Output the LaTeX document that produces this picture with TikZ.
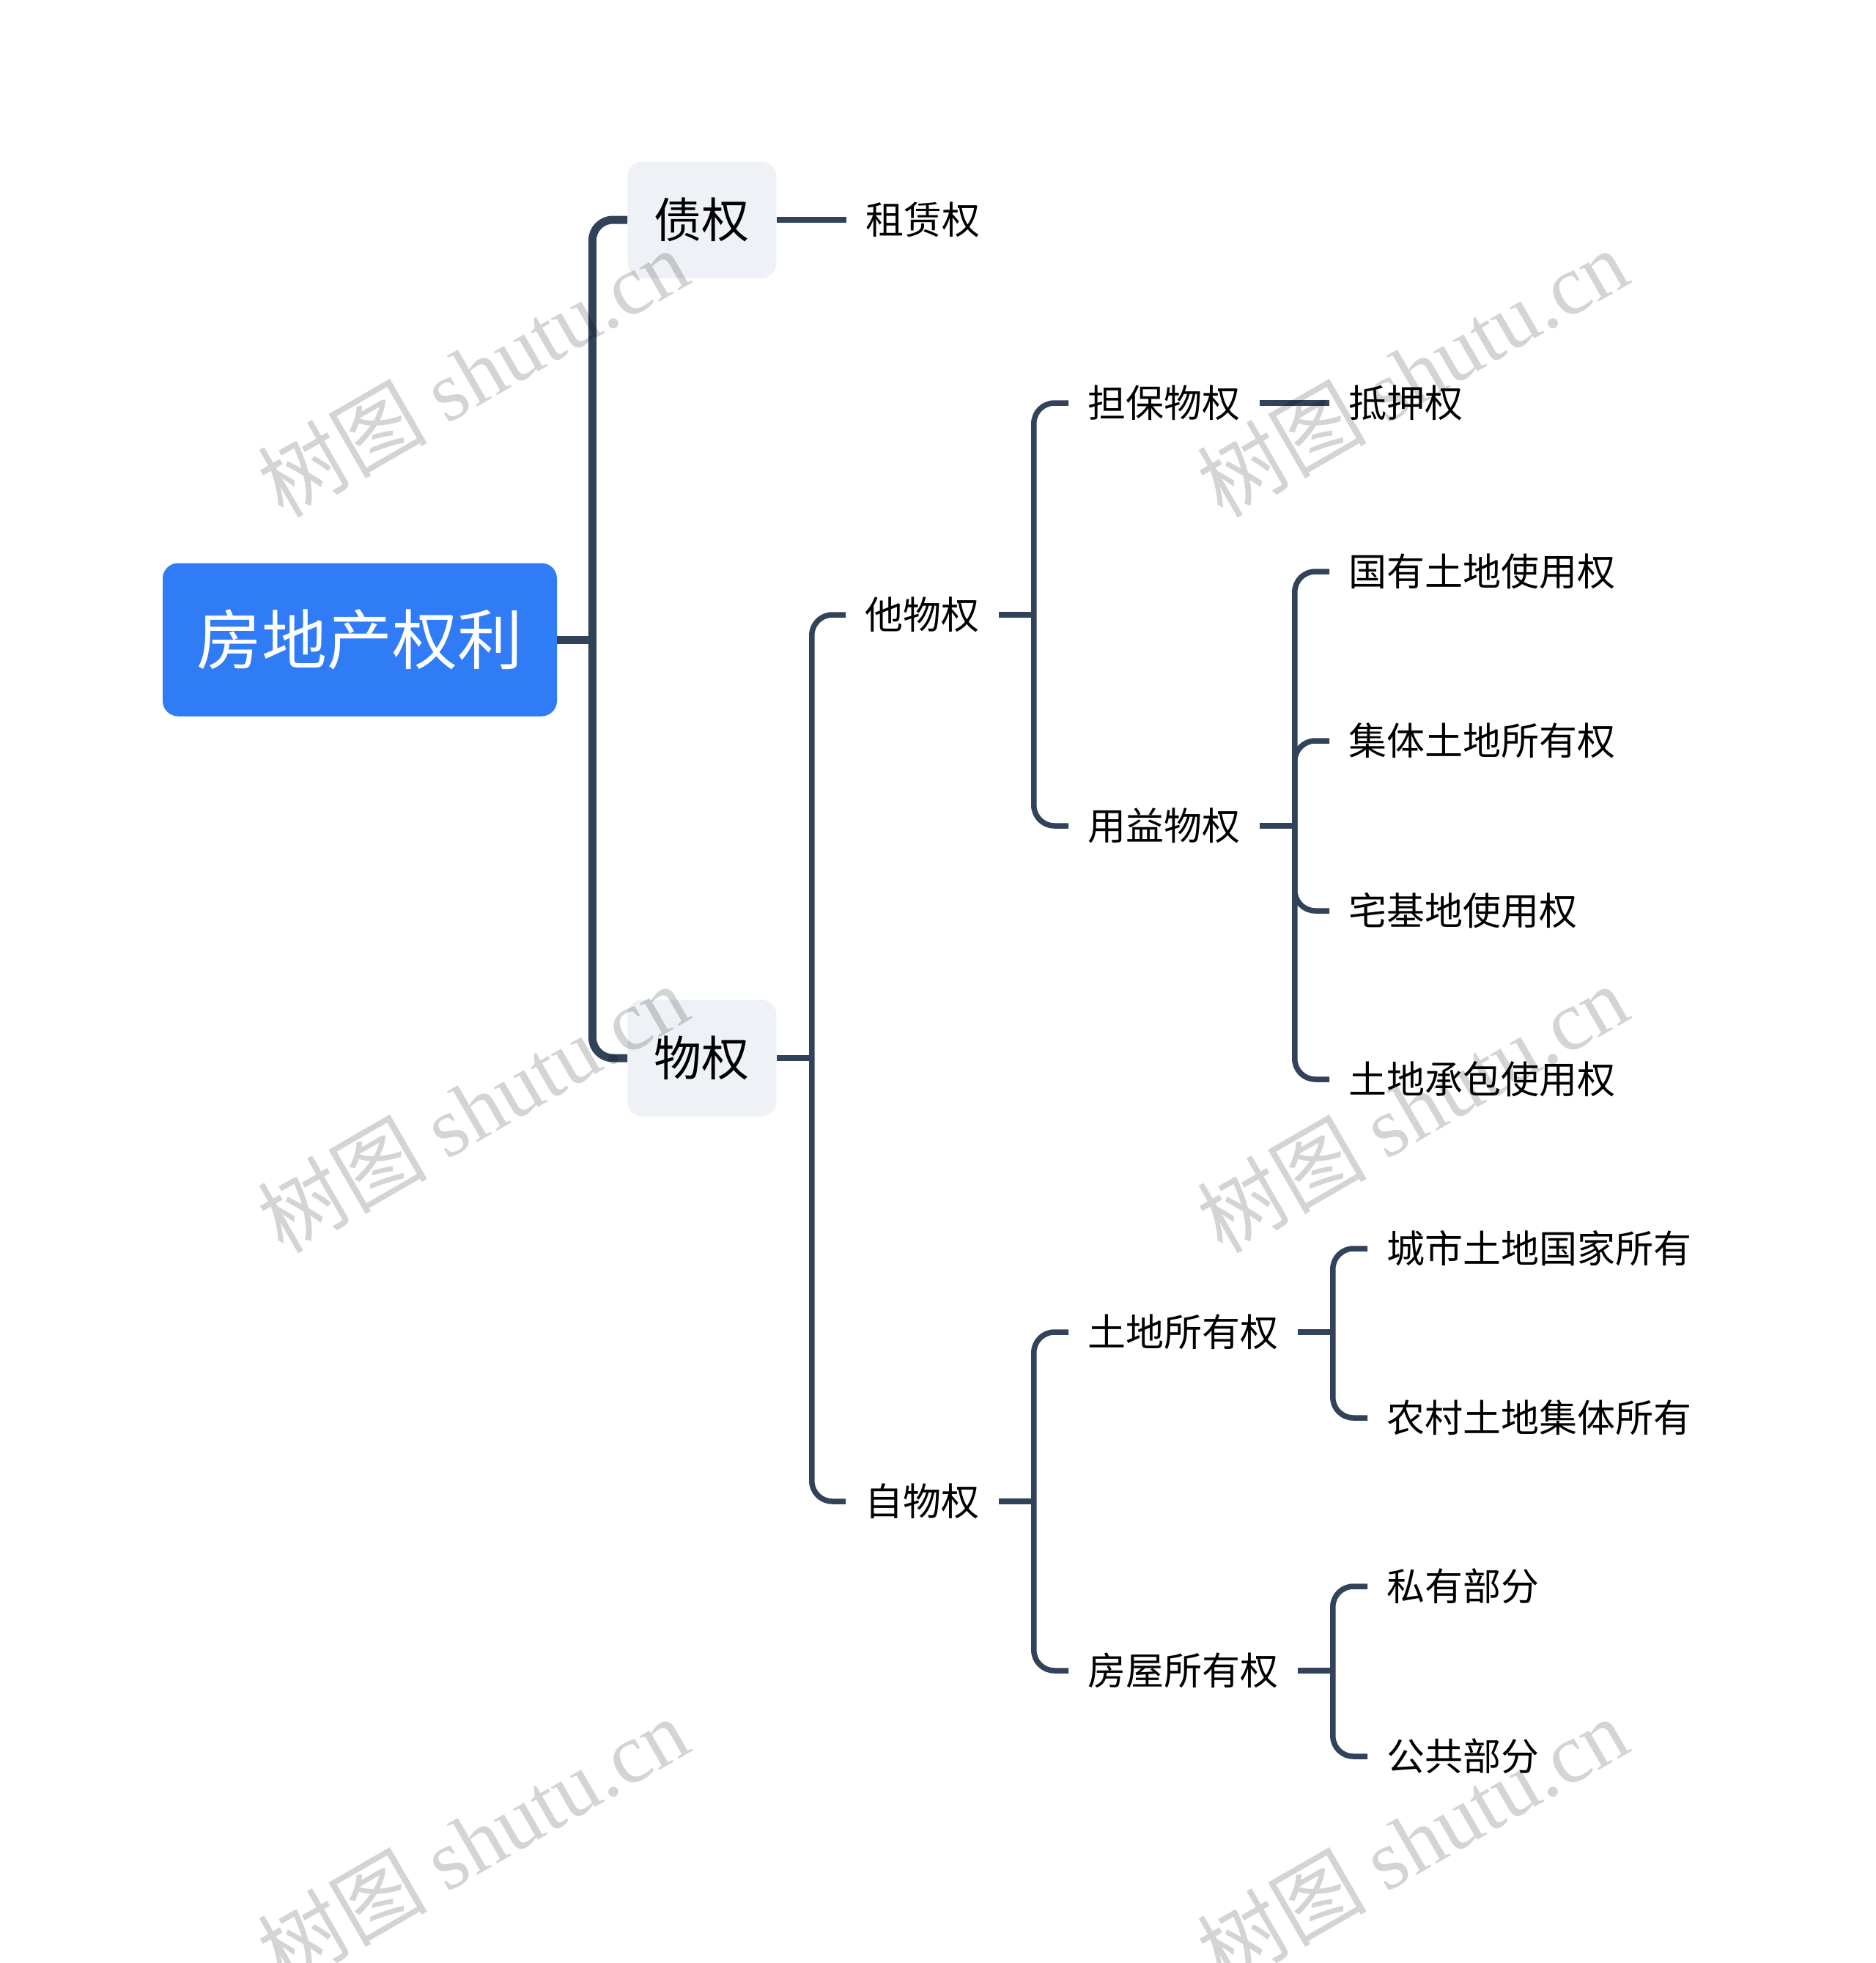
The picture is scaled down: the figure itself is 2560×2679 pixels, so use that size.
\documentclass[tikz,border=0pt]{standalone}
\usepackage{fontspec}
\setmainfont{Noto Sans CJK SC}
\newfontfamily\cjkfont{Noto Sans CJK SC}
\newfontfamily\wmserif{Liberation Serif}
\definecolor{linec}{RGB}{50,66,90}
\definecolor{rootblue}{RGB}{47,124,246}
\definecolor{boxgrey}{RGB}{238,241,245}
\begin{document}
\begin{tikzpicture}[x=0.5pt,y=-0.5pt,
  conn/.style={draw=linec, line width=3.75pt, rounded corners=14pt},
  trunk/.style={conn, line width=5.5pt},
  leaf/.style={anchor=west, inner xsep=13pt, inner ysep=0pt, text=black,
    font=\fontsize{26pt}{26pt}\selectfont, text height=22.9pt, text depth=3.1pt},
  midbox/.style={anchor=west, fill=boxgrey, rounded corners=10pt, inner sep=0pt,
    minimum width=101.5pt, minimum height=79.5pt, text=black,
    font=\fontsize{32.5pt}{32.5pt}\selectfont, text height=28.6pt, text depth=3.9pt},
  rootbox/.style={fill=rootblue, rounded corners=10.5pt, inner sep=0pt,
    minimum width=269pt, minimum height=104.5pt, text=white,
    font=\fontsize{44.5pt}{44.5pt}\selectfont, text height=39.2pt, text depth=5.3pt},
  wm/.style={rotate=30, text=black, text opacity=0.17, inner sep=0pt,
    font=\fontsize{58pt}{58pt}\selectfont}
]
\useasboundingbox (0,0) rectangle (2560,2679);

% nodes
\node[rootbox] (root) at (491,873) {房地产权利};
\node[midbox] (zq) at (856,300) {债权};
\node[midbox] (wq) at (856,1444) {物权};

\node[leaf] (zl) at (1155,300) {租赁权};
\node[leaf] (ta) at (1154,839) {他物权};
\node[leaf] (zi) at (1154,2049) {自物权};

\node[leaf] (db) at (1458,550) {担保物权};
\node[leaf] (yy) at (1458,1127) {用益物权};
\node[leaf] (dy) at (1814,550) {抵押权};
\node[leaf] (gy) at (1814,780) {国有土地使用权};
\node[leaf] (jt) at (1814,1011) {集体土地所有权};
\node[leaf] (zj) at (1814,1243) {宅基地使用权};
\node[leaf] (td) at (1814,1473) {土地承包使用权};

\node[leaf] (ts) at (1458,1818) {土地所有权};
\node[leaf] (fw) at (1458,2280) {房屋所有权};
\node[leaf] (cs) at (1866,1704) {城市土地国家所有};
\node[leaf] (nc) at (1866,1935) {农村土地集体所有};
\node[leaf] (sy) at (1866,2165) {私有部分};
\node[leaf] (gg) at (1866,2397) {公共部分};

% connectors
\draw[trunk] (root.east) -- ++(48,0);
\draw[trunk] (root.east) ++(48,0) |- (zq.west);
\draw[trunk] (root.east) ++(48,0) |- (wq.west);

\draw[conn] (zq.east) -- (zl.west);

\draw[conn] (wq.east) -- ++(48,0);
\draw[conn] (wq.east) ++(48,0) |- (ta.west);
\draw[conn] (wq.east) ++(48,0) |- (zi.west);

\draw[conn] (ta.east) -- ++(48,0);
\draw[conn] (ta.east) ++(48,0) |- (db.west);
\draw[conn] (ta.east) ++(48,0) |- (yy.west);

\draw[conn] (db.east) -- (dy.west);

\draw[conn] (yy.east) -- ++(48,0);
\foreach \c in {gy,jt,zj,td} \draw[conn] (yy.east) ++(48,0) |- (\c.west);

\draw[conn] (zi.east) -- ++(48,0);
\draw[conn] (zi.east) ++(48,0) |- (ts.west);
\draw[conn] (zi.east) ++(48,0) |- (fw.west);

\draw[conn] (ts.east) -- ++(48,0);
\draw[conn] (ts.east) ++(48,0) |- (cs.west);
\draw[conn] (ts.east) ++(48,0) |- (nc.west);

\draw[conn] (fw.east) -- ++(48,0);
\draw[conn] (fw.east) ++(48,0) |- (sy.west);
\draw[conn] (fw.east) ++(48,0) |- (gg.west);

% watermarks
\foreach \wx/\wy/\n in {645/508/a,1927/508/b,645/1512/c,1927/1512/d,645/2512/e,1927/2512/f}
  \node[wm] (wm\n) at (\wx,\wy) {{\cjkfont 树图} {\wmserif shutu.cn}};
\end{tikzpicture}
\end{document}
